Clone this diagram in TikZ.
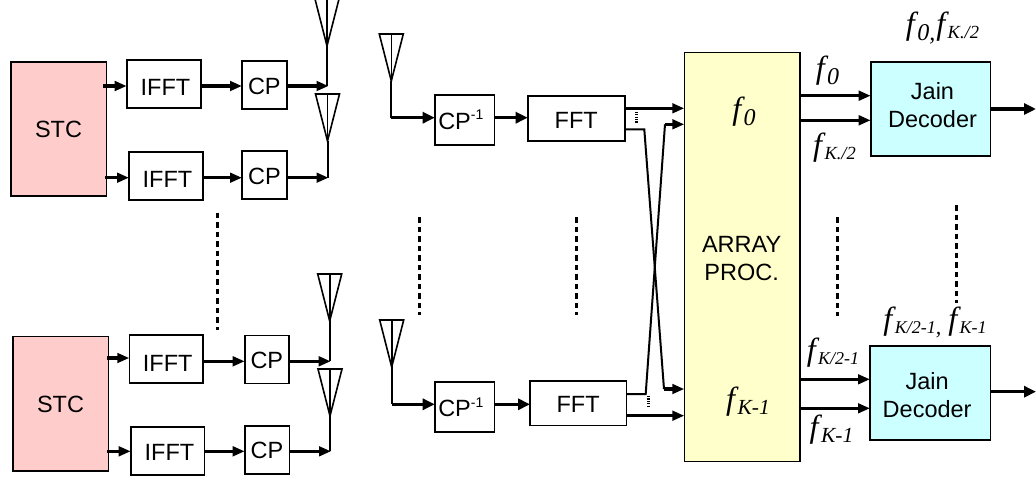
\documentclass[tikz,border=0pt]{standalone}
\usepackage{fontspec}
\setmainfont{Liberation Sans}
\newfontfamily\tms{Liberation Serif}
\usetikzlibrary{arrows.meta,calc}
\definecolor{stcpink}{HTML}{FFCCCC}
\definecolor{procyellow}{HTML}{FFFFCC}
\definecolor{deccyan}{HTML}{CCFFFF}
\newcommand{\bx}[7]{%
  \pgfmathsetmacro{\bcx}{(#2+#4)/2}\pgfmathsetmacro{\bcy}{(#3+#5)/2}%
  \pgfmathsetmacro{\bw}{#4-#2}\pgfmathsetmacro{\bh}{#5-#3}%
  \node[blk,#6,minimum width=\bw pt,minimum height=\bh pt] (#1) at (\bcx,\bcy) {#7};}
\newcommand{\antn}[3]{% name, centre x, top y : tip coordinate is (name)
  \coordinate (#1) at (#2,#3+47);
  \draw[ant] ($(#1)+(-12,-47)$) -- (#1) -- ($(#1)+(12,-47)$) -- cycle;
  \draw[ant] (#1) -- ($(#1)+(0,-47)$);}
% text nudged by dx, dy (pixels, dy downward) inside its box
\newcommand{\tx}[3]{\raisebox{-#2pt}[\height][\depth]{\kern#1pt #3\kern-#1pt}}
\newcommand{\two}[2]{\begin{tabular}{@{}c@{}}#1\\#2\end{tabular}}
\newcommand{\fl}[3]{{\fontsize{#1}{#1}\selectfont\itshape f\kern2.5pt}{\fontsize{#2}{#2}\selectfont\itshape\raisebox{-0.22em}{#3}}}
\newcommand{\supm}{\raisebox{0.42em}{\fontsize{14}{14}\selectfont -1}}
\tikzset{
  blk/.style={draw=black,line width=1.6pt,inner sep=0pt,outer sep=0pt,font=\fontsize{23.5}{28.5}\selectfont,align=center},
  ant/.style={draw=black,line width=1.6pt,line join=miter},
  feed/.style={line width=2pt},
  thickarrow/.style={line width=3.1pt,-{Triangle[length=12pt,width=11pt]}},
  wire/.style={line width=2pt},
  smallarrow/.style={line width=3.1pt,-{Triangle[length=12pt,width=9.5pt]}},
  dots/.style={line width=3pt,dash pattern=on 5.5pt off 4pt},
  tiny/.style={line width=3pt,dash pattern=on 1.2pt off 1.2pt},
  lab/.style={inner sep=0pt,font=\tms}
}
\begin{document}
\begin{tikzpicture}[x=1pt,y=-1pt]
\useasboundingbox (0,0) rectangle (1036,477);
% rows
\coordinate (r1) at (0,86); \coordinate (r2) at (0,177.7);
\coordinate (r3) at (0,361.3); \coordinate (r4) at (0,451.3);
\coordinate (s3) at (0,358);
\coordinate (m1) at (0,117.7); \coordinate (m2) at (0,404.3);
% transmit boxes
\bx{stca}{10.7}{61.7}{106.3}{196}{fill=stcpink}{\tx{0}{1}{STC}}
\bx{ifa}{126.7}{60}{200.7}{108}{}{\tx{1.8}{3.3}{IFFT}}
\bx{cpa}{242}{60.7}{286.7}{108.7}{}{\tx{0}{1.3}{CP}}
\bx{ifb}{129}{152}{202.7}{200}{}{\tx{1.6}{3}{IFFT}}
\bx{cpb}{242}{151}{287}{199}{}{\tx{0}{1.7}{CP}}
\bx{stcb}{12.7}{336.3}{108.3}{470.7}{fill=stcpink}{\tx{0}{0.5}{STC}}
\bx{ifc}{129.3}{334.7}{203}{383}{}{\tx{1.6}{4.5}{IFFT}}
\bx{cpc}{244.7}{335.3}{289}{383.3}{}{\tx{0}{1.4}{CP}}
\bx{ifd}{130.7}{426.7}{204.3}{475}{}{\tx{2}{2}{IFFT}}
\bx{cpd}{244.7}{426}{289.3}{474}{}{\tx{0}{0.7}{CP}}
% antennas
\antn{ta}{327}{-1}
\antn{tb}{327.5}{94}
\antn{tc}{329.7}{274}
\antn{td}{330}{369}
\draw[feed] (ta) -- (ta |- r1);
\draw[feed] (tb) -- (tb |- r2);
\draw[feed] (tc) -- (tc |- r3);
\draw[feed] (td) -- (td |- r4);
% transmit arrows
\draw[smallarrow] ($(stca.east |- r1)+(-3,0)$) -- (ifa.west |- r1);
\draw[smallarrow] ($(stca.east |- r2)+(-1,0)$) -- (ifb.west |- r2);
\draw[smallarrow] ($(stcb.east |- s3)+(-1,0)$) -- (ifc.west |- s3);
\draw[smallarrow] ($(stcb.east |- r4)+(-1,0)$) -- (ifd.west |- r4);
\draw[smallarrow] (ifa.east |- r1) -- (cpa.west |- r1);
\draw[smallarrow] (ifb.east |- r2) -- (cpb.west |- r2);
\draw[smallarrow] (ifc.east |- r3) -- (cpc.west |- r3);
\draw[smallarrow] (ifd.east |- r4) -- (cpd.west |- r4);
\draw[smallarrow] (cpa.east |- r1) -- ($(ta |- r1)+(1.5,0)$);
\draw[smallarrow] (cpb.east |- r2) -- ($(tb |- r2)+(1,0)$);
\draw[smallarrow] (cpc.east |- r3) -- ($(tc |- r3)+(1,0)$);
\draw[smallarrow] (cpd.east |- r4) -- ($(td |- r4)+(1,0)$);
\coordinate (da) at (217,212.7); \coordinate (db) at (217,330);
\draw[dots] (da) -- (db);
% receive
\antn{ra}{391.3}{34}
\antn{rb}{391.7}{320}
\bx{cia}{434.7}{94.7}{494.3}{145}{}{\tx{-3.7}{0}{CP\supm}}
\bx{fa}{527.7}{95.7}{624.7}{140.7}{}{\tx{0}{1.8}{FFT}}
\bx{cib}{434.7}{381.7}{494.3}{432}{}{\tx{-3.7}{0.5}{CP\supm}}
\bx{fb}{530}{380.7}{626.3}{425.3}{}{\tx{0}{1}{FFT}}
\bx{arr}{684.3}{52.3}{800}{461.3}{fill=procyellow}{\tx{-0.5}{4}{\two{ARRAY}{PROC.}}}
\bx{ja}{870.7}{61.7}{990.3}{155.7}{fill=deccyan}{\tx{2}{-1}{\two{Jain}{Decoder}}}
\bx{jb}{870}{345.7}{990.3}{440}{fill=deccyan}{\tx{-3}{5}{\two{Jain}{Decoder}}}
\draw[wire] (ra) -- (ra |- m1);
\draw[wire] (rb) -- (rb |- m2);
\draw[thickarrow] (ra |- m1) -- (cia.west |- m1);
\draw[thickarrow] (rb |- m2) -- (cib.west |- m2);
\draw[thickarrow] (cia.east |- m1) -- (fa.west |- m1);
\draw[thickarrow] (cib.east |- m2) -- (fb.west |- m2);
% FFT to array
\coordinate (y1) at (0,108.3); \coordinate (y2) at (0,124.3);
\coordinate (y3) at (0,389); \coordinate (y4) at (0,415.7);
\coordinate (ua) at (0,129.3); \coordinate (ub) at (0,394);
\draw[smallarrow] (fa.east |- y1) -- (arr.west |- y1);
\draw[smallarrow] (fb.east |- y4) -- (arr.west |- y4);
\coordinate (ka) at (644.3,129.3); \coordinate (kb) at (664,389);
\coordinate (kc) at (645.7,394); \coordinate (kd) at (665,124.3);
\draw[wire] (fa.east |- ua) -- (ka) -- (kb);
\draw[wire] (fb.east |- ub) -- (kc) -- (kd);
\draw[smallarrow] (kb) -- (arr.west |- kb);
\draw[smallarrow] (kd) -- (arr.west |- kd);
\coordinate (ta1) at (636.3,111.7); \coordinate (ta2) at (636.3,122.7);
\coordinate (tb1) at (648.3,396); \coordinate (tb2) at (648.3,406.7);
\draw[tiny] (ta1) -- (ta2);
\draw[tiny] (tb1) -- (tb2);
\coordinate (dc) at (419.3,217.3); \coordinate (dd) at (419.3,315);
\coordinate (de) at (576.3,217.3); \coordinate (df) at (576.3,315);
\coordinate (dg) at (837.3,217.3); \coordinate (dh) at (837.3,316);
\coordinate (di) at (956.7,205.3); \coordinate (dj) at (956.7,303.3);
\draw[dots] (dc) -- (dd);
\draw[dots] (de) -- (df);
\draw[dots] (dg) -- (dh);
\draw[dots] (di) -- (dj);
% outputs of array
\coordinate (o1) at (0,95.7); \coordinate (o2) at (0,120.3);
\coordinate (o3) at (0,379.3); \coordinate (o4) at (0,408.3);
\coordinate (oa) at (1036,109); \coordinate (ob) at (1036,391.7);
\draw[smallarrow] ($(arr.east |- o1)+(-1.5,0)$) -- (ja.west |- o1);
\draw[smallarrow] ($(arr.east |- o2)+(-1.5,0)$) -- (ja.west |- o2);
\draw[smallarrow] ($(arr.east |- o3)+(-1.5,0)$) -- (jb.west |- o3);
\draw[smallarrow] ($(arr.east |- o4)+(-1.5,0)$) -- (jb.west |- o4);
\draw[thickarrow] (ja.east |- oa) -- (oa);
\draw[thickarrow] (jb.east |- ob) -- (ob);
% frequency labels
\node[lab] (l1) at (942.5,28) {\fl{32}{24}{0,}\hspace{1pt}\fl{32}{18.5}{K./2}};
\node[lab] (l2) at (827.5,71) {\fl{32}{24}{0}};
\node[lab] (l3) at (834.5,147.5) {\fl{32}{18.5}{K./2}};
\node[lab] (l4) at (744,112) {\fl{32}{24}{0}};
\node[lab] (l5) at (748,402) {\fl{32}{21.5}{K-1}};
\node[lab] (l6) at (935,322.5) {\fl{32}{18}{K/2-1}{\fontsize{22}{22}\selectfont\itshape\raisebox{-0.22em}{,}}\hspace{7pt}\fl{32}{18}{K-1}};
\node[lab] (l7) at (833,352.5) {\fl{32}{18}{K/2-1}};
\node[lab] (l8) at (831.5,430) {\fl{32}{21.5}{K-1}};
\end{tikzpicture}
\end{document}
